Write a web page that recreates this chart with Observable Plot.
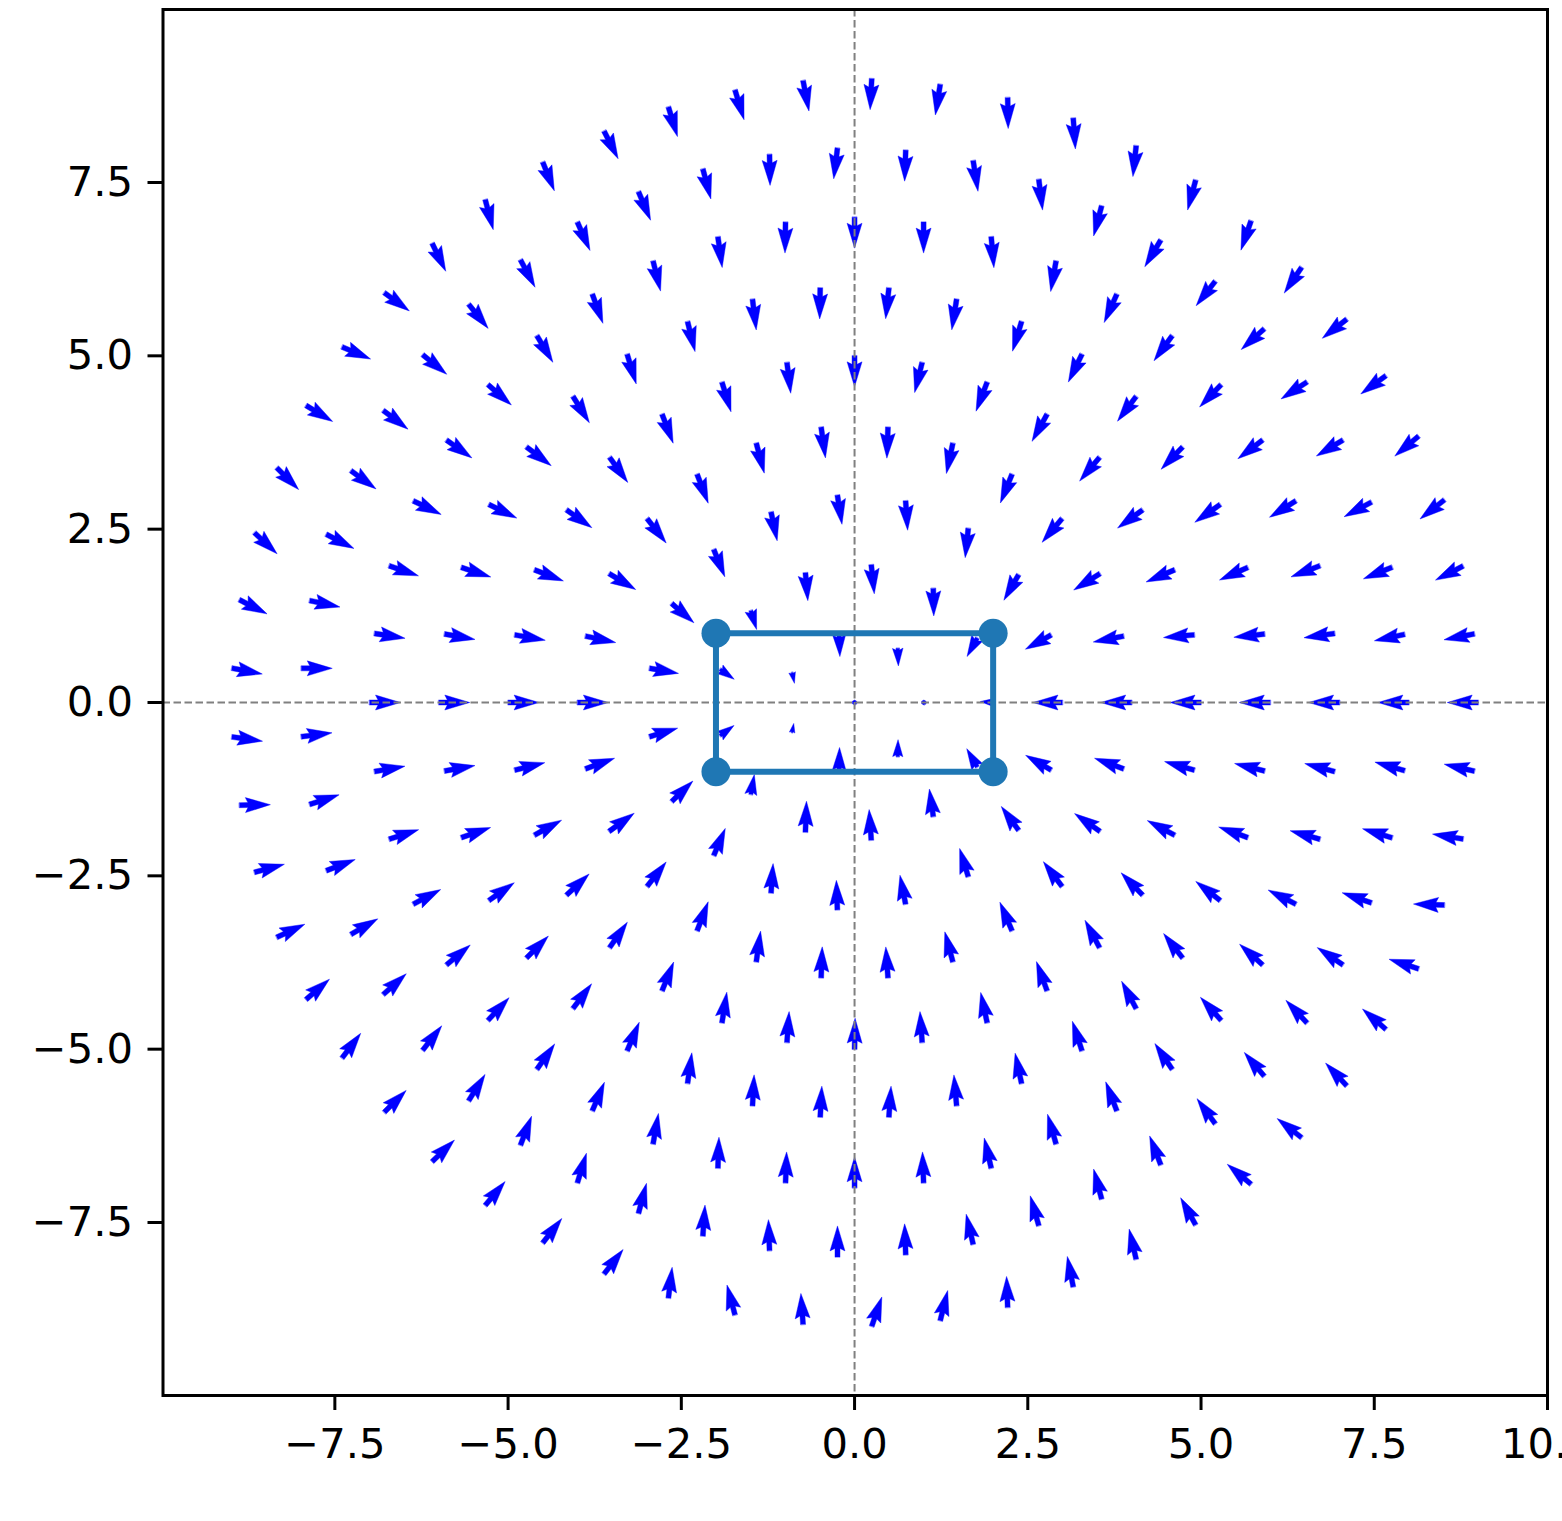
<!DOCTYPE html>
<html>
<head>
<meta charset="utf-8">
<script src="https://cdn.jsdelivr.net/npm/d3@7"></script>
<script src="https://cdn.jsdelivr.net/npm/@observablehq/plot@0.6"></script>
<style>
  html, body { margin: 0; padding: 0; background: #fff; overflow: hidden; }
  #chart svg { display: block; }
</style>
</head>
<body>
<div id="chart"></div>
<script>
// ---- data ----
// concentric rings of sample points: radius and number of equally spaced points (first point at angle 0)
const ringRadius = [0, 1, 2, 3, 4, 5, 6, 7, 8, 9];
const ringCount  = [1, 7, 13, 19, 26, 32, 38, 44, 51, 57];

// arrow direction per point (degrees, counter-clockwise from +x), in ring order k = 0..n-1
const dirRing0 = [0];
const dirRing1 = [0, -88, -88, -78, 80, 89, 89];
const dirRing2 = [176, -119, -89, -84, -85, -73, -35, 36, 80, 88, 94, 98, 120];
const dirRing3 = [180, -151, -120, -96, -86, -81, -78, -68, -41, -10, 17, 44, 67, 86, 92, 101, 107, 126, 150];
const dirRing4 = [180, -169, -148, -130, -112, -102, -92, -82, -75, -69, -52, -31, -12, 0, 20, 36, 52, 69, 82, 88, 94, 105, 113, 127, 145, 160];
const dirRing5 = [180, -175, -157, -144, -130, -119, -111, -104, -90, -83, -73, -69, -54, -35, -21, -10, 0, 14, 29, 43, 55, 68, 81, 86, 89, 94, 102, 110, 118, 134, 152, 164];
const dirRing6 = [180, -174, -156, -145, -134, -127, -116, -107, -99, -96, -91, -83, -76, -73, -58, -37, -26, -18, -10, 0, 10, 19, 35, 45, 53, 67, 82, 87, 87, 86, 95, 102, 108, 118, 128, 142, 160, 166];
const dirRing7 = [180, -172, -159, -148, -143, -134, -126, -114, -100, -85, -90, -90, -91, -82, -76, -70, -59, -41, -35, -26, -19, -9, 0, 10, 18, 28, 40, 47, 55, 67, 80, 88, 88, 90, 92, 103, 106, 111, 124, 132, 138, 153, 164, 165];
const dirRing8 = [180, -168, -158, -152, -149, -147, -138, -128, -121, -105, -83, -81, -92, -97, -89, -75, -67, -66, -62, -51, -39, -37, -36, -27, -12, 0, 7, 18, 21, 30, 42, 52, 58, 69, 73, 75, 86, 92, 90, 92, 103, 106, 105, 111, 126, 130, 133, 146, 161, 163, 164];
const dirRing9 = [180, -169, -153, -142, -140, -144, -142, -124, -109, -105, -96, -86, -89, -99, -93, -79, -73, -73, -63, -68, -75, -64, -36, -23, -31, -45, -43, -27, -11, -8, 1, 15, 25, 41, 53, 45, 44, 50, 52, 52, 83, 105, 94, 71, 76, 92, 101, 103, 119, 140, 142, 133, 139, 162, 178, 171, 167];
const ringDirections = [dirRing0, dirRing1, dirRing2, dirRing3, dirRing4, dirRing5, dirRing6, dirRing7, dirRing8, dirRing9];

// arrow magnitude (relative to the far-field arrows)
const magRing0 = [0];
const magRing1 = [0, 0.57, 0.70, 0.36, 0.30, 0.73, 0.55];
const magRing2 = [0.42, 0.68, 0.89, 0.94, 0.90, 0.64, 0.56, 0.56, 0.65, 1.0, 0.99, 0.90, 0.68];
const magOuterRings = [0.95, 1, 1, 1, 1, 1, 1]; // rings 3..9

// rectangle outline
const boxX = [-2, 2, 2, -2, -2];
const boxY = [1, 1, -1, -1, 1];

// axis ticks
const xTicks = [-7.5, -5, -2.5, 0, 2.5, 5, 7.5, 10];
const yTicks = [-7.5, -5, -2.5, 0, 2.5, 5, 7.5];

// ---- tables built from the arrays ----
const arrows = [];
ringRadius.forEach((r, i) => {
  const n = ringCount[i];
  for (let k = 0; k < n; k++) {
    const a = 2 * Math.PI * k / n;
    const m = i === 0 ? magRing0[k] : i === 1 ? magRing1[k] : i === 2 ? magRing2[k] : magOuterRings[i - 3];
    arrows.push({x: r * Math.cos(a), y: r * Math.sin(a), rot: 90 - ringDirections[i][k], m});
  }
});
const box = boxX.map((x, i) => ({x, y: boxY[i]}));
const corners = box.slice(0, 4);

// matplotlib-like quiver arrow (filled polygon), pointing up from the tail
const W = 5.0; // shaft width in px
const quiverArrow = {
  draw(ctx, l) {
    const L = l / W;
    if (L < 1) {
      for (let i = 0; i < 6; i++) {
        const t = i * Math.PI / 3;
        const px = Math.cos(t) * 0.5 * W, py = Math.sin(t) * 0.5 * W;
        if (i) ctx.lineTo(px, py); else ctx.moveTo(px, py);
      }
      ctx.closePath();
      return;
    }
    let pts;
    if (L < 5) {
      const s = L / 5;
      pts = [[0, .5], [.5, .5], [0, 1.5], [5, 0], [0, -1.5], [.5, -.5], [0, -.5]].map(([a, c]) => [a * s, c * s]);
    } else {
      pts = [[0, .5], [L - 4.5, .5], [L - 5, 1.5], [L, 0], [L - 5, -1.5], [L - 4.5, -.5], [0, -.5]];
    }
    pts.forEach(([a, c], i) => {
      const px = c * W, py = -a * W;
      if (i) ctx.lineTo(px, py); else ctx.moveTo(px, py);
    });
    ctx.closePath();
  }
};

const fmt = d => (d < 0 ? "\u2212" : "") + Math.abs(d).toFixed(1);

const chart = Plot.plot({
  width: 1562,
  height: 1521,
  marginLeft: 162.5,
  marginRight: 15,
  marginTop: 9,
  marginBottom: 126,
  x: {domain: [-9.98, 10]},
  y: {domain: [-9.995, 9.995]},
  length: {domain: [0, 1], range: [0, 31]},
  style: {fontFamily: "DejaVu Sans", fontSize: "41.7px", background: "white", color: "black"},
  marks: [
    Plot.vector(arrows, {x: "x", y: "y", length: "m", rotate: "rot", anchor: "start", shape: quiverArrow, fill: "#0000ff", stroke: "#0000ff", strokeWidth: 0.4}),
    Plot.ruleY([0], {stroke: "#808080", strokeWidth: 2, strokeDasharray: "7.5,3.5"}),
    Plot.ruleX([0], {stroke: "#808080", strokeWidth: 2, strokeDasharray: "7.5,3.5"}),
    Plot.line(box, {x: "x", y: "y", stroke: "#1f77b4", strokeWidth: 6}),
    Plot.dot(corners, {x: "x", y: "y", r: 14.5, fill: "#1f77b4"}),
    Plot.frame({stroke: "black", strokeWidth: 3}),
    Plot.axisX(xTicks, {anchor: "bottom", tickSize: 15, tickPadding: 18, tickFormat: fmt, fontSize: 41.7, strokeWidth: 3, label: null}),
    Plot.axisY(yTicks, {anchor: "left", tickSize: 15, tickPadding: 15, tickFormat: fmt, fontSize: 41.7, strokeWidth: 3, label: null})
  ]
});
document.getElementById("chart").appendChild(chart);
</script>
</body>
</html>
